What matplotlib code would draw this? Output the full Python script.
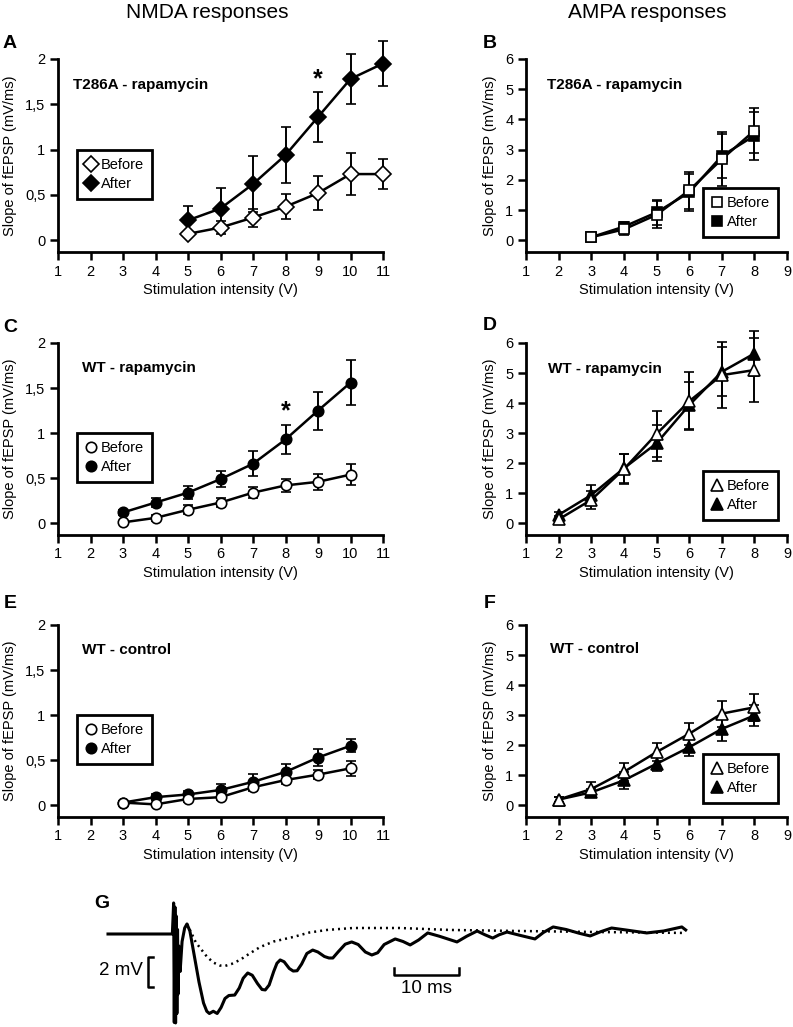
import numpy as np
import matplotlib.pyplot as plt
from matplotlib.lines import Line2D

plt.rcParams['font.family'] = ['Liberation Sans', 'DejaVu Sans']

# ---- data ----
# A: NMDA, T286A - rapamycin
a_x = [5, 6, 7, 8, 9, 10, 11]
a_before = [0.07, 0.14, 0.25, 0.37, 0.52, 0.73, 0.73]
a_before_err = [0.03, 0.07, 0.10, 0.14, 0.19, 0.23, 0.17]
a_after = [0.22, 0.35, 0.62, 0.94, 1.36, 1.78, 1.95]
a_after_err = [0.16, 0.23, 0.31, 0.31, 0.28, 0.28, 0.25]

# B: AMPA, T286A - rapamycin
b_x = [3, 4, 5, 6, 7, 8]
b_before = [0.10, 0.36, 0.84, 1.65, 2.68, 3.63]
b_before_err = [0.05, 0.20, 0.45, 0.62, 0.90, 0.75]
b_after = [0.10, 0.45, 0.92, 1.58, 2.79, 3.46]
b_after_err = [0.05, 0.15, 0.42, 0.62, 0.72, 0.80]

# C: NMDA, WT - rapamycin
c_x = [3, 4, 5, 6, 7, 8, 9, 10]
c_before = [0.01, 0.06, 0.15, 0.23, 0.34, 0.42, 0.46, 0.54]
c_before_err = [0.02, 0.03, 0.05, 0.05, 0.06, 0.07, 0.09, 0.12]
c_after = [0.12, 0.23, 0.34, 0.49, 0.66, 0.93, 1.25, 1.56]
c_after_err = [0.03, 0.05, 0.07, 0.09, 0.14, 0.16, 0.21, 0.25]

# D: AMPA, WT - rapamycin
d_x = [2, 3, 4, 5, 6, 7, 8]
d_before = [0.13, 0.78, 1.80, 2.97, 4.06, 4.93, 5.10]
d_before_err = [0.10, 0.30, 0.50, 0.78, 0.96, 1.10, 1.05]
d_after = [0.28, 0.94, 1.83, 2.66, 3.93, 5.04, 5.65]
d_after_err = [0.10, 0.32, 0.48, 0.60, 0.78, 0.82, 0.75]

# E: NMDA, WT - control
e_x = [3, 4, 5, 6, 7, 8, 9, 10]
e_before = [0.03, 0.01, 0.07, 0.09, 0.20, 0.28, 0.34, 0.41]
e_before_err = [0.02, 0.02, 0.03, 0.03, 0.04, 0.04, 0.05, 0.08]
e_after = [0.03, 0.09, 0.12, 0.17, 0.26, 0.37, 0.53, 0.66]
e_after_err = [0.02, 0.03, 0.04, 0.07, 0.09, 0.09, 0.09, 0.07]

# F: AMPA, WT - control
f_x = [2, 3, 4, 5, 6, 7, 8]
f_before = [0.19, 0.54, 1.11, 1.77, 2.38, 3.05, 3.26]
f_before_err = [0.08, 0.25, 0.30, 0.30, 0.36, 0.43, 0.45]
f_after = [0.19, 0.43, 0.83, 1.38, 1.93, 2.54, 2.99]
f_after_err = [0.08, 0.12, 0.29, 0.25, 0.30, 0.39, 0.36]

# G: example traces (time in ms, voltage in mV)
solid_t = [0.0, 9.9, 10.0, 10.1, 10.2, 10.3, 10.4, 10.5, 10.6, 10.7, 10.8, 10.9,
           11.1, 11.4, 11.8, 12.15, 12.6, 13.3, 14.0, 14.7, 15.2, 15.6, 16.2,
           16.8, 17.4, 18.0, 18.6, 19.5, 20.2, 20.8, 21.5, 22.2, 23.0, 23.7,
           24.2, 24.8, 25.5, 26.0, 26.5, 27.1, 27.9, 28.5, 29.1, 29.8, 30.6,
           31.5, 32.3, 33.3, 34.0, 34.6, 35.4, 36.5, 37.5, 38.5, 39.6, 40.6,
           41.5, 42.5, 44.2, 45.4, 46.5, 47.8, 49.2, 51.0, 53.7, 55.2, 56.8,
           58.0, 59.2, 60.2, 61.4, 63.5, 65.7, 67.0, 68.5, 70.5, 72.5, 74.2,
           75.8, 77.5, 80.0, 82.9, 85.5, 88.3, 88.9]
solid_v = [0.0, 0.0, 1.0, 2.07, -5.9, 1.8, -5.93, 1.2, -5.3, 0.3, -4.0, -0.8,
           -2.5, -0.5, 0.4, 0.67, 0.2, -1.5, -3.2, -4.6, -5.15, -5.3, -5.15,
           -5.3, -4.9, -4.3, -4.1, -4.07, -3.6, -2.95, -2.6, -2.75, -3.3, -3.7,
           -3.73, -3.4, -2.5, -1.95, -1.73, -1.85, -2.3, -2.47, -2.45, -2.0, -1.3,
           -1.07, -1.2, -1.5, -1.6, -1.6, -1.2, -0.68, -0.53, -0.7, -1.2, -1.4,
           -1.25, -0.7, -0.33, -0.5, -0.73, -0.4, 0.07, -0.15, -0.53, -0.15, 0.2,
           -0.05, -0.27, -0.05, 0.13, -0.1, -0.33, 0.1, 0.47, 0.3, 0.05, -0.13,
           0.15, 0.4, 0.25, 0.07, 0.2, 0.47, 0.27]
dotted_t = [12.15, 12.8, 13.5, 14.3, 15.2, 16.2, 17.2, 18.0, 19.0, 20.3, 21.8,
            23.4, 25.5, 28.5, 31.0, 33.7, 37.7, 44.9, 52.6, 63.4, 75.7, 88.9]
dotted_v = [0.67, 0.1, -0.55, -1.0, -1.5, -1.9, -2.1, -2.13, -2.0, -1.73, -1.3,
            -0.87, -0.5, -0.2, 0.1, 0.27, 0.4, 0.4, 0.27, 0.2, 0.13, 0.07]

W, H = 793, 1027
fig = plt.figure(figsize=(W / 100, H / 100), dpi=100)


def px_axes(x0, x1, ytop, ybot):
    return fig.add_axes([x0 / W, (H - ybot) / H, (x1 - x0) / W, (ybot - ytop) / H])


def style(ax, xmax, ymin, ymax, yticks, yticklabels):
    ax.set_xlim(1, xmax)
    ax.set_ylim(ymin, ymax)
    ax.set_xticks(range(1, xmax + 1))
    ax.set_yticks(yticks)
    ax.set_yticklabels(yticklabels)
    for s in ['top', 'right']:
        ax.spines[s].set_visible(False)
    for s in ['left', 'bottom']:
        ax.spines[s].set_linewidth(2)
    ax.tick_params(direction='out', length=6, width=1.8, labelsize=10.5, pad=3)
    ax.set_xlabel('Stimulation intensity (V)', fontsize=10.5, labelpad=3)
    ax.set_ylabel('Slope of fEPSP (mV/ms)', fontsize=10.5)


def series(ax, x, yb, eb, ya, ea, marker, ms):
    kw = dict(color='black', lw=1.8, capsize=3.5, elinewidth=1.4, capthick=1.4,
              marker=marker, ms=ms, mec='black', mew=1.2, clip_on=False)
    ax.errorbar(x, ya, yerr=ea, mfc='black', zorder=3, **kw)
    ax.errorbar(x, yb, yerr=eb, mfc='white', zorder=4, **kw)


def legend(ax, marker, ms, loc, anchor):
    h = [Line2D([], [], ls='none', marker=marker, ms=ms, mfc='white', mec='black', mew=1.2),
         Line2D([], [], ls='none', marker=marker, ms=ms, mfc='black', mec='black', mew=1.2)]
    lg = ax.legend(h, ['Before', 'After'], loc=loc, bbox_to_anchor=anchor, fontsize=10.5,
                   fancybox=False, edgecolor='black', framealpha=1, borderaxespad=0,
                   handlelength=0.8, handletextpad=0.3, labelspacing=0.35, borderpad=0.55)
    lg.get_frame().set_linewidth(2)


nmda_ticks = [0, 0.5, 1, 1.5, 2]
nmda_labels = ['0', '0,5', '1', '1,5', '2']
ampa_ticks = [0, 1, 2, 3, 4, 5, 6]
ampa_labels = ['0', '1', '2', '3', '4', '5', '6']

rows = [(59, 252), (343, 535), (625, 817)]
left_cols = (58, 383)
right_cols = (526, 787)

axA = px_axes(*left_cols, *rows[0])
axB = px_axes(*right_cols, *rows[0])
axC = px_axes(*left_cols, *rows[1])
axD = px_axes(*right_cols, *rows[1])
axE = px_axes(*left_cols, *rows[2])
axF = px_axes(*right_cols, *rows[2])

for ax in (axA, axC, axE):
    style(ax, 11, -0.13, 2, nmda_ticks, nmda_labels)
    ax.yaxis.set_label_coords(-0.125, 0.5)
for ax in (axB, axD, axF):
    style(ax, 9, -0.39, 6, ampa_ticks, ampa_labels)
    ax.yaxis.set_label_coords(-0.11, 0.5)

series(axA, a_x, a_before, a_before_err, a_after, a_after_err, 'D', 8.3)
series(axB, b_x, b_before, b_before_err, b_after, b_after_err, 's', 7.5)
series(axC, c_x, c_before, c_before_err, c_after, c_after_err, 'o', 7.5)
series(axD, d_x, d_before, d_before_err, d_after, d_after_err, '^', 8.5)
series(axE, e_x, e_before, e_before_err, e_after, e_after_err, 'o', 7.5)
series(axF, f_x, f_before, f_before_err, f_after, f_after_err, '^', 8.5)

legend(axA, 'D', 8.0, 'upper left', (0.058, 0.528))
legend(axC, 'o', 7.5, 'upper left', (0.058, 0.531))
legend(axE, 'o', 7.5, 'upper left', (0.058, 0.531))
legend(axB, 's', 7.5, 'lower right', (0.966, 0.078))
legend(axD, '^', 8.5, 'lower right', (0.966, 0.078))
legend(axF, '^', 8.5, 'lower right', (0.966, 0.073))

tkw = dict(fontsize=11, fontweight='bold', va='center', ha='left')
axA.text(0.046, 0.865, 'T286A - rapamycin', transform=axA.transAxes, **tkw)
axB.text(0.08, 0.865, 'T286A - rapamycin', transform=axB.transAxes, **tkw)
axC.text(0.074, 0.87, 'WT - rapamycin', transform=axC.transAxes, **tkw)
axD.text(0.084, 0.865, 'WT - rapamycin', transform=axD.transAxes, **tkw)
axE.text(0.074, 0.87, 'WT - control', transform=axE.transAxes, **tkw)
axF.text(0.092, 0.875, 'WT - control', transform=axF.transAxes, **tkw)

axA.text(9, 1.78, '*', fontsize=18, fontweight='bold', ha='center', va='center')
axC.text(8, 1.24, '*', fontsize=18, fontweight='bold', ha='center', va='center')

fig.text(207 / W, 1 - 12 / H, 'NMDA responses', fontsize=15, ha='center', va='center')
fig.text(647 / W, 1 - 12 / H, 'AMPA responses', fontsize=15, ha='center', va='center')
for lab, x, y in [('A', 10, 43), ('B', 490, 43), ('C', 10, 328), ('D', 490, 326),
                  ('E', 10, 603), ('F', 490, 603), ('G', 102, 903)]:
    fig.text(x / W, 1 - y / H, lab, fontsize=14, fontweight='bold', ha='center', va='center')

# ---- G: traces ----
axG = px_axes(108, 687, 895, 1027)
axG.set_xlim(0, 89.1)
axG.set_ylim(-6.2, 2.6)
axG.axis('off')
axG.plot(solid_t, solid_v, color='black', lw=2.2, solid_joinstyle='round', clip_on=False)
axG.plot(dotted_t, dotted_v, color='black', lw=1.8, ls=(0, (0.8, 1.6)), clip_on=False)
# 2 mV bar
axG.plot([7.0, 6.15, 6.15, 7.0], [-1.53, -1.53, -3.53, -3.53], color='black', lw=1.8,
         clip_on=False)
axG.text(5.4, -2.45, '2 mV', fontsize=13.5, ha='right', va='center')
# 10 ms bar
axG.plot([44.0, 44.0, 54.0, 54.0], [-2.27, -2.73, -2.73, -2.27], color='black', lw=1.8,
         clip_on=False)
axG.text(49.0, -3.05, '10 ms', fontsize=13.5, ha='center', va='top')

fig.savefig('out.png', dpi=100)
